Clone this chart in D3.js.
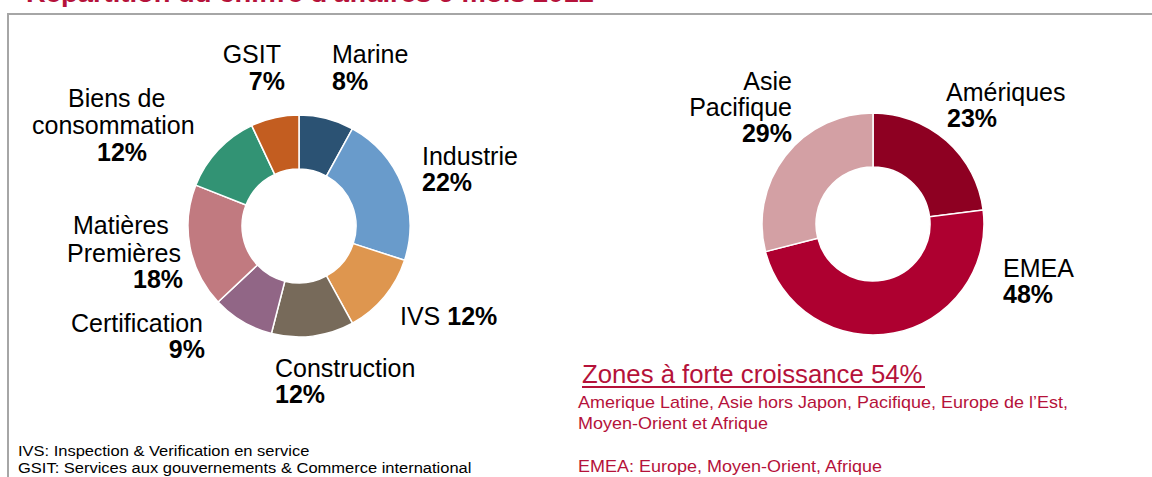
<!DOCTYPE html>
<html>
<head>
<meta charset="utf-8">
<script src="https://cdn.jsdelivr.net/npm/d3@7"></script>
<style>
  body { margin: 0; background: #fff; }
  svg { display: block; font-family: "Liberation Sans", Arial, sans-serif; }
</style>
</head>
<body>
<div id="main"></div>
<script>
// data
const title = "Répartition du chiffre d'affaires 9 mois 2012";
const activites = ['Marine', 'Industrie', 'IVS', 'Construction', 'Certification', 'Matières Premières', 'Biens de consommation', 'GSIT'];
const activitesPct = [8, 22, 12, 12, 9, 18, 12, 7];
const zones = ['Amériques', 'EMEA', 'Asie Pacifique'];
const zonesPct = [23, 48, 29];
const notesGauche = ['IVS: Inspection & Verification en service', 'GSIT: Services aux gouvernements & Commerce international'];
const croissanceTitre = 'Zones  à  forte  croissance  54%';
const notesDroite = ['Amerique Latine, Asie hors Japon, Pacifique, Europe de l\u2019Est,', 'Moyen-Orient et Afrique', '', 'EMEA: Europe, Moyen-Orient, Afrique'];

const w = 1152, h = 477;
const colorsLeft = ['#2b5273', '#699bcb', '#de964f', '#776a5a', '#916686', '#c17a80', '#329374', '#c35d20'];
const colorsRight = ['#8e0022', '#ae0030', '#d3a0a4'];
const red = '#b5123a';

const svg = d3.select('#main')
    .append('svg')
    .attr('width', w)
    .attr('height', h);

// title, cut by the top edge as in the original slide
svg.append('text')
    .text(title)
    .attr('x', 26)
    .attr('y', 2)
    .attr('textLength', 568)
    .attr('lengthAdjust', 'spacingAndGlyphs')
    .attr('font-size', 24)
    .attr('font-weight', 'bold')
    .attr('fill', red);

// frame
svg.append('path')
    .attr('d', `M8,${h} V14 H${w}`)
    .attr('fill', 'none')
    .attr('stroke', '#a6a6a6')
    .attr('stroke-width', 2);

const pie = d3.pie().sort(null).value(d => d);
const arc = d3.arc().innerRadius(57).outerRadius(111);

function donut(cx, cy, values, colors) {
    svg.append('g')
        .attr('transform', `translate(${cx},${cy})`)
        .selectAll('path')
        .data(pie(values))
        .enter()
        .append('path')
        .attr('d', arc)
        .attr('fill', (d, i) => colors[i])
        .attr('stroke', '#fff')
        .attr('stroke-width', 1.5);
}

donut(299, 226, activitesPct, colorsLeft);
donut(873, 224, zonesPct, colorsRight);

// label placement: per category, lines of [text or 'pct', x, y, anchor, pct inline]
const labelLayoutLeft = [
    [['Marine', 332, 63, 'start'], ['pct', 332, 90, 'start']],
    [['Industrie', 422, 165, 'start'], ['pct', 422, 191, 'start']],
    [['IVS', 400, 325, 'start', true]],
    [['Construction', 275, 377, 'start'], ['pct', 275, 403, 'start']],
    [['Certification', 203, 332, 'end'], ['pct', 205, 358, 'end']],
    [['Matières', 73, 234, 'start'], ['Premières', 67, 262, 'start'], ['pct', 133, 288, 'start']],
    [['Biens de', 68, 107, 'start'], ['consommation', 32, 134, 'start'], ['pct', 97, 161, 'start']],
    [['GSIT', 281, 63, 'end'], ['pct', 285, 90, 'end']]
];
const labelLayoutRight = [
    [['Amériques', 946, 101, 'start'], ['pct', 947, 127, 'start']],
    [['EMEA', 1003, 277, 'start'], ['pct', 1003, 303, 'start']],
    [['Asie', 792, 90, 'end'], ['Pacifique', 792, 116, 'end'], ['pct', 792, 142, 'end']]
];

function labels(values, layout) {
    values.forEach((v, i) => {
        layout[i].forEach(line => {
            const t = svg.append('text')
                .attr('x', line[1])
                .attr('y', line[2])
                .attr('text-anchor', line[3])
                .attr('font-size', 25)
                .attr('fill', '#000');
            if (line[0] === 'pct') {
                t.attr('font-weight', 'bold').text(v + '%');
            } else if (line[4]) {
                t.append('tspan').text(line[0] + ' ');
                t.append('tspan').attr('font-weight', 'bold').text(v + '%');
            } else {
                t.text(line[0]);
            }
        });
    });
}

labels(activitesPct, labelLayoutLeft);
labels(zonesPct, labelLayoutRight);

// notes bottom left (slide text is stretched horizontally)
svg.selectAll('.note-left')
    .data(notesGauche)
    .enter()
    .append('text')
    .attr('class', 'note-left')
    .text(d => d)
    .attr('transform', (d, i) => `translate(18,${456 + i * 17}) scale(1.1,1)`)
    .attr('font-size', 15)
    .attr('fill', '#000');

// growth zones block
svg.append('text')
    .text(croissanceTitre)
    .attr('transform', 'translate(582,383) scale(1.03,1)')
    .attr('font-size', 25)
    .attr('fill', red);

svg.append('line')
    .attr('x1', 582)
    .attr('x2', 925)
    .attr('y1', 387)
    .attr('y2', 387)
    .attr('stroke', red)
    .attr('stroke-width', 2);

svg.selectAll('.note-right')
    .data(notesDroite)
    .enter()
    .append('text')
    .attr('class', 'note-right')
    .text(d => d)
    .attr('transform', (d, i) => `translate(578,${408 + i * 21.3}) scale(1.125,1)`)
    .attr('font-size', 16)
    .attr('fill', red);
</script>
</body>
</html>
